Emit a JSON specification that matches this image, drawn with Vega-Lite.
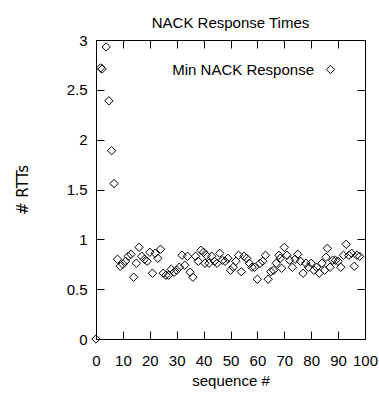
{
  "$schema": "https://vega.github.io/schema/vega-lite/v6.json",
  "autosize": {"type": "none"},
  "width": 269,
  "height": 299,
  "padding": {"left": 96, "top": 40, "right": 14, "bottom": 57},
  "background": "white",
  "title": {"text": "NACK Response Times", "font": "Liberation Sans", "fontSize": 15, "fontWeight": "normal", "color": "black", "baseline": "bottom", "offset": 15, "dy": 28},
  "config": {
    "view": {"stroke": "black", "strokeWidth": 1},
    "axis": {"grid": false, "domainColor": "black", "tickColor": "black", "labelColor": "black", "titleColor": "black", "labelFont": "Liberation Sans", "labelFontSize": 15, "titleFont": "Liberation Sans", "titleFontSize": 15, "titleFontWeight": "normal", "tickSize": -8, "domainWidth": 1, "tickWidth": 1}
  },
  "data": {"values": [
    {"seq": 0, "rtt": 0, "s": "Min NACK Response"},
    {"seq": 1.7, "rtt": 2.72, "s": "Min NACK Response"},
    {"seq": 2.3, "rtt": 2.71, "s": "Min NACK Response"},
    {"seq": 3.8, "rtt": 2.93, "s": "Min NACK Response"},
    {"seq": 4.8, "rtt": 2.39, "s": "Min NACK Response"},
    {"seq": 5.8, "rtt": 1.89, "s": "Min NACK Response"},
    {"seq": 6.7, "rtt": 1.56, "s": "Min NACK Response"},
    {"seq": 8, "rtt": 0.80, "s": "Min NACK Response"},
    {"seq": 9, "rtt": 0.73, "s": "Min NACK Response"},
    {"seq": 10, "rtt": 0.75, "s": "Min NACK Response"},
    {"seq": 11, "rtt": 0.78, "s": "Min NACK Response"},
    {"seq": 12, "rtt": 0.83, "s": "Min NACK Response"},
    {"seq": 13, "rtt": 0.85, "s": "Min NACK Response"},
    {"seq": 14, "rtt": 0.62, "s": "Min NACK Response"},
    {"seq": 15, "rtt": 0.76, "s": "Min NACK Response"},
    {"seq": 16, "rtt": 0.92, "s": "Min NACK Response"},
    {"seq": 17, "rtt": 0.83, "s": "Min NACK Response"},
    {"seq": 18, "rtt": 0.80, "s": "Min NACK Response"},
    {"seq": 19, "rtt": 0.78, "s": "Min NACK Response"},
    {"seq": 20, "rtt": 0.87, "s": "Min NACK Response"},
    {"seq": 21, "rtt": 0.66, "s": "Min NACK Response"},
    {"seq": 22, "rtt": 0.86, "s": "Min NACK Response"},
    {"seq": 23, "rtt": 0.81, "s": "Min NACK Response"},
    {"seq": 24, "rtt": 0.90, "s": "Min NACK Response"},
    {"seq": 25, "rtt": 0.66, "s": "Min NACK Response"},
    {"seq": 26, "rtt": 0.64, "s": "Min NACK Response"},
    {"seq": 27, "rtt": 0.64, "s": "Min NACK Response"},
    {"seq": 28, "rtt": 0.70, "s": "Min NACK Response"},
    {"seq": 29, "rtt": 0.67, "s": "Min NACK Response"},
    {"seq": 30, "rtt": 0.69, "s": "Min NACK Response"},
    {"seq": 31, "rtt": 0.72, "s": "Min NACK Response"},
    {"seq": 32, "rtt": 0.84, "s": "Min NACK Response"},
    {"seq": 33, "rtt": 0.74, "s": "Min NACK Response"},
    {"seq": 34, "rtt": 0.83, "s": "Min NACK Response"},
    {"seq": 35, "rtt": 0.67, "s": "Min NACK Response"},
    {"seq": 36, "rtt": 0.62, "s": "Min NACK Response"},
    {"seq": 37, "rtt": 0.83, "s": "Min NACK Response"},
    {"seq": 38, "rtt": 0.78, "s": "Min NACK Response"},
    {"seq": 39, "rtt": 0.89, "s": "Min NACK Response"},
    {"seq": 40, "rtt": 0.87, "s": "Min NACK Response"},
    {"seq": 40.5, "rtt": 0.76, "s": "Min NACK Response"},
    {"seq": 41, "rtt": 0.84, "s": "Min NACK Response"},
    {"seq": 42, "rtt": 0.76, "s": "Min NACK Response"},
    {"seq": 43, "rtt": 0.83, "s": "Min NACK Response"},
    {"seq": 44, "rtt": 0.78, "s": "Min NACK Response"},
    {"seq": 45, "rtt": 0.76, "s": "Min NACK Response"},
    {"seq": 46, "rtt": 0.86, "s": "Min NACK Response"},
    {"seq": 47, "rtt": 0.79, "s": "Min NACK Response"},
    {"seq": 48, "rtt": 0.78, "s": "Min NACK Response"},
    {"seq": 49, "rtt": 0.81, "s": "Min NACK Response"},
    {"seq": 50, "rtt": 0.69, "s": "Min NACK Response"},
    {"seq": 51, "rtt": 0.72, "s": "Min NACK Response"},
    {"seq": 52, "rtt": 0.78, "s": "Min NACK Response"},
    {"seq": 53, "rtt": 0.84, "s": "Min NACK Response"},
    {"seq": 54, "rtt": 0.675, "s": "Min NACK Response"},
    {"seq": 55, "rtt": 0.83, "s": "Min NACK Response"},
    {"seq": 56, "rtt": 0.81, "s": "Min NACK Response"},
    {"seq": 57, "rtt": 0.76, "s": "Min NACK Response"},
    {"seq": 58, "rtt": 0.72, "s": "Min NACK Response"},
    {"seq": 59, "rtt": 0.72, "s": "Min NACK Response"},
    {"seq": 60, "rtt": 0.60, "s": "Min NACK Response"},
    {"seq": 61, "rtt": 0.76, "s": "Min NACK Response"},
    {"seq": 62, "rtt": 0.78, "s": "Min NACK Response"},
    {"seq": 63, "rtt": 0.84, "s": "Min NACK Response"},
    {"seq": 64, "rtt": 0.60, "s": "Min NACK Response"},
    {"seq": 65, "rtt": 0.675, "s": "Min NACK Response"},
    {"seq": 66, "rtt": 0.69, "s": "Min NACK Response"},
    {"seq": 67, "rtt": 0.76, "s": "Min NACK Response"},
    {"seq": 68, "rtt": 0.84, "s": "Min NACK Response"},
    {"seq": 68.5, "rtt": 0.81, "s": "Min NACK Response"},
    {"seq": 69, "rtt": 0.71, "s": "Min NACK Response"},
    {"seq": 70, "rtt": 0.92, "s": "Min NACK Response"},
    {"seq": 71, "rtt": 0.84, "s": "Min NACK Response"},
    {"seq": 72, "rtt": 0.79, "s": "Min NACK Response"},
    {"seq": 73, "rtt": 0.72, "s": "Min NACK Response"},
    {"seq": 74, "rtt": 0.80, "s": "Min NACK Response"},
    {"seq": 75, "rtt": 0.85, "s": "Min NACK Response"},
    {"seq": 76, "rtt": 0.78, "s": "Min NACK Response"},
    {"seq": 77, "rtt": 0.66, "s": "Min NACK Response"},
    {"seq": 78, "rtt": 0.76, "s": "Min NACK Response"},
    {"seq": 79, "rtt": 0.72, "s": "Min NACK Response"},
    {"seq": 80, "rtt": 0.76, "s": "Min NACK Response"},
    {"seq": 81, "rtt": 0.69, "s": "Min NACK Response"},
    {"seq": 82, "rtt": 0.72, "s": "Min NACK Response"},
    {"seq": 83, "rtt": 0.66, "s": "Min NACK Response"},
    {"seq": 84, "rtt": 0.76, "s": "Min NACK Response"},
    {"seq": 85, "rtt": 0.69, "s": "Min NACK Response"},
    {"seq": 85.5, "rtt": 0.82, "s": "Min NACK Response"},
    {"seq": 86, "rtt": 0.91, "s": "Min NACK Response"},
    {"seq": 87, "rtt": 0.72, "s": "Min NACK Response"},
    {"seq": 88, "rtt": 0.79, "s": "Min NACK Response"},
    {"seq": 89, "rtt": 0.79, "s": "Min NACK Response"},
    {"seq": 90, "rtt": 0.78, "s": "Min NACK Response"},
    {"seq": 91, "rtt": 0.72, "s": "Min NACK Response"},
    {"seq": 92, "rtt": 0.84, "s": "Min NACK Response"},
    {"seq": 93, "rtt": 0.95, "s": "Min NACK Response"},
    {"seq": 94, "rtt": 0.84, "s": "Min NACK Response"},
    {"seq": 95, "rtt": 0.86, "s": "Min NACK Response"},
    {"seq": 96, "rtt": 0.73, "s": "Min NACK Response"},
    {"seq": 97, "rtt": 0.84, "s": "Min NACK Response"},
    {"seq": 98, "rtt": 0.83, "s": "Min NACK Response"}
  ]},
  "layer": [
    {
      "mark": {"type": "point", "shape": "diamond", "filled": false, "stroke": "black", "strokeWidth": 1, "size": 70, "opacity": 1, "clip": false},
      "encoding": {
        "x": {"field": "seq", "type": "quantitative", "scale": {"domain": [0, 100], "nice": false, "zero": false},
          "axis": {"title": "sequence #", "values": [0,10,20,30,40,50,60,70,80,90,100], "labelPadding": 22, "titleBaseline": "alphabetic", "titleY": 46, "labelFlush": false}},
        "y": {"field": "rtt", "type": "quantitative", "scale": {"domain": [0, 3], "nice": false},
          "axis": {"title": "# RTTs", "values": [0,0.5,1,1.5,2,2.5,3], "format": "~g", "labelPadding": 17, "titleFont": "DejaVu Sans", "titleFontSize": 15, "titleX": -74, "titleBaseline": "middle", "labelFlush": false}},
        "shape": {"field": "s", "type": "nominal", "scale": {"range": ["diamond"]},
          "legend": {"title": null, "orient": "none", "legendX": 227, "legendY": 22, "labelAlign": "right", "labelOffset": -24, "labelLimit": 0, "labelFont": "Liberation Sans", "labelFontSize": 15, "labelColor": "black", "symbolStrokeColor": "black", "symbolFillColor": "transparent", "symbolSize": 70, "symbolStrokeWidth": 1}}
      }
    },
    {
      "mark": {"type": "point", "opacity": 0},
      "encoding": {
        "x": {"field": "seq", "type": "quantitative", "axis": {"orient": "top", "labels": false, "title": null, "values": [0,10,20,30,40,50,60,70,80,90,100]}},
        "y": {"field": "rtt", "type": "quantitative", "axis": {"orient": "right", "labels": false, "title": null, "values": [0,0.5,1,1.5,2,2.5,3]}}
      }
    }
  ],
  "resolve": {"axis": {"x": "independent", "y": "independent"}}
}
